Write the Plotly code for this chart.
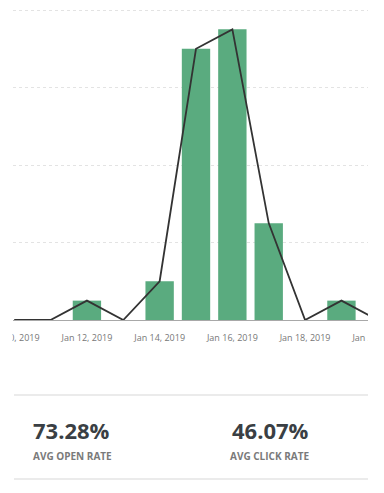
import plotly.graph_objects as go
from datetime import datetime, timedelta

dates = ["2019-01-10", "2019-01-11", "2019-01-12", "2019-01-13", "2019-01-14",
         "2019-01-15", "2019-01-16", "2019-01-17", "2019-01-18", "2019-01-19", "2019-01-20"]
bar_values = [0, 0, 1, 0, 2, 14, 15, 5, 0, 1, 0]
line_values = [0, 0, 1, 0, 2, 14, 15, 5, 0, 1, 0]

open_rate = "73.28%"
click_rate = "46.07%"
open_label = "AVG OPEN RATE"
click_label = "AVG CLICK RATE"

W, H = 384, 493
ML, MR, MB = 13, 0, 173
BASE_Y = H - MB            # pixel row of the zero line
UNIT = 310 / 16.0          # pixels per y unit
MT = 8
PH = BASE_Y - MT
PW = W - ML - MR
DAY = 36.36                # pixels per day
X0_PX = 14.2               # pixel of the first date

y_top = PH / UNIT
first = datetime(2019, 1, 10)
x_start = first - timedelta(days=(X0_PX - ML) / DAY)
x_end = x_start + timedelta(days=PW / DAY)
CLIP_L = 12.5
CLIP_R = 368


def px(x):
    return (x - ML) / PW


def py(y):
    return (BASE_Y - y) / PH


fig = go.Figure()
fig.add_trace(go.Bar(
    x=dates, y=bar_values,
    width=0.78 * 86400000,
    marker=dict(color="#5aab7f", line=dict(width=0)),
    hoverinfo="skip",
))
fig.add_trace(go.Scatter(
    x=dates, y=line_values, mode="lines",
    line=dict(color="#333333", width=1.8),
    hoverinfo="skip",
))

font = "Open Sans, sans-serif"

fig.update_layout(
    width=W, height=H,
    margin=dict(l=ML, r=MR, t=MT, b=MB, pad=0, autoexpand=False),
    paper_bgcolor="white", plot_bgcolor="white",
    showlegend=False,
    xaxis=dict(
        type="date", automargin=False,
        range=[x_start.strftime("%Y-%m-%d %H:%M:%S"), x_end.strftime("%Y-%m-%d %H:%M:%S")],
        tick0="2019-01-10", dtick=2 * 86400000,
        tickformat="%b %-d, %Y",
        tickfont=dict(family=font, size=9, color="#777777"),
        ticklabeloverflow="allow",
        showgrid=False, zeroline=False,
        showline=True, linecolor="#a8a8a8", linewidth=1,
        ticks="", ticklabelstandoff=9,
    ),
    yaxis=dict(
        automargin=False,
        range=[0, y_top], tick0=0, dtick=4,
        showticklabels=False, zeroline=False,
        showgrid=True, gridcolor="#e3e3e3", griddash="dot", gridwidth=1,
    ),
)

shapes = [
    # masks standing in for the container's clipping edges
    dict(type="rect", xref="paper", yref="paper", x0=px(-40), x1=px(CLIP_L),
         y0=py(365), y1=py(BASE_Y + 2), fillcolor="white", line=dict(width=0), layer="above"),
    dict(type="rect", xref="paper", yref="paper", x0=px(CLIP_R), x1=px(W + 40),
         y0=py(H + 10), y1=py(-10), fillcolor="white", line=dict(width=0), layer="above"),
    # separators
    dict(type="line", xref="paper", yref="paper", x0=px(14), x1=px(CLIP_R), y0=py(395), y1=py(395),
         line=dict(color="#e4e4e4", width=1.5), layer="above"),
    dict(type="line", xref="paper", yref="paper", x0=px(14), x1=px(CLIP_R), y0=py(479), y1=py(479),
         line=dict(color="#e4e4e4", width=1.5), layer="above"),
]
fig.update_layout(shapes=shapes)

anns = [
    dict(text="<b>" + open_rate + "</b>", x=px(31), y=py(430),
         font=dict(family=font, size=22, color="#3a3f44")),
    dict(text="<b>" + click_rate + "</b>", x=px(230), y=py(430),
         font=dict(family=font, size=22, color="#3a3f44")),
    dict(text="<b>" + open_label + "</b>", x=px(31), y=py(456),
         font=dict(family=font, size=10, color="#7a7a7a")),
    dict(text="<b>" + click_label + "</b>", x=px(228), y=py(456),
         font=dict(family=font, size=10, color="#7a7a7a")),
]
for a in anns:
    a.update(xref="paper", yref="paper", xanchor="left", yanchor="middle",
             showarrow=False)
fig.update_layout(annotations=anns)

fig.write_html("out.html", config={"displayModeBar": False},
               post_script="document.body.style.margin='0px';")
